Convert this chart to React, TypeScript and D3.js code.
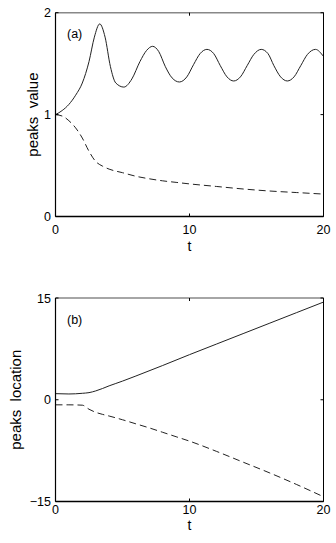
import React from "react";
import * as d3 from "d3";

// Panel (a): peaks value
const tA_solid = [0, 0.5, 1.0, 1.5, 2.0, 2.5, 2.9, 3.3, 3.7, 4.1, 4.5, 5.1, 5.7, 6.3, 6.8, 7.25, 7.7, 8.2, 8.7, 9.25, 9.8, 10.3, 10.8, 11.3, 11.8, 12.3, 12.8, 13.3, 13.8, 14.3, 14.8, 15.35, 15.85, 16.3, 16.8, 17.3, 17.8, 18.3, 18.8, 19.4, 20];
const vA_solid = [1.0, 1.04, 1.1, 1.19, 1.31, 1.52, 1.76, 1.89, 1.76, 1.47, 1.31, 1.27, 1.35, 1.52, 1.63, 1.67, 1.62, 1.47, 1.36, 1.32, 1.37, 1.49, 1.6, 1.64, 1.6, 1.48, 1.37, 1.33, 1.37, 1.48, 1.59, 1.64, 1.6, 1.48, 1.37, 1.33, 1.37, 1.48, 1.59, 1.64, 1.57];
const tA_dash = [0, 0.6, 1, 1.5, 2, 2.5, 3, 3.5, 4, 5, 6, 7, 8, 9, 10, 12, 14, 16, 18, 20];
const vA_dash = [1.0, 0.98, 0.94, 0.87, 0.77, 0.64, 0.54, 0.495, 0.465, 0.43, 0.395, 0.37, 0.35, 0.335, 0.32, 0.295, 0.27, 0.25, 0.235, 0.22];

// Panel (b): peaks location
const tB_solid = [0, 1, 2, 2.5, 3, 3.5, 4, 4.5, 5, 6, 8, 10, 12, 14, 16, 18, 20];
const vB_solid = [0.9, 0.85, 0.95, 1.05, 1.3, 1.65, 2.05, 2.4, 2.75, 3.5, 5.05, 6.65, 8.2, 9.75, 11.3, 12.85, 14.4];
const tB_dash = [0, 1, 2, 2.5, 3, 3.5, 4, 5, 6, 7, 8, 9, 10, 12, 14, 16, 18, 20];
const vB_dash = [-0.75, -0.75, -0.8, -1.4, -1.85, -2.15, -2.4, -2.95, -3.55, -4.15, -4.8, -5.45, -6.1, -7.6, -9.2, -10.8, -12.5, -14.3];

const xTicks = [0, 10, 20];
const yTicksA = [0, 1, 2];
const yTicksB = [-15, 0, 15];

const FONT = "'Liberation Sans', Arial, Helvetica, sans-serif";

type PanelProps = {
  yDomain: [number, number];
  yRange: [number, number];
  yTicks: number[];
  series: { t: number[]; v: number[]; dashed: boolean }[];
  ylabel: string;
  ylabelX: number;
  tag: string;
  tagY: number;
  xLabelBase: number;
  tLabelBase: number;
};

const x = d3.scaleLinear().domain([0, 20]).range([55.5, 323.5]);

function Panel(p: PanelProps) {
  const y = d3.scaleLinear().domain(p.yDomain).range(p.yRange);
  const [yb, yt] = p.yRange;
  const x0 = x.range()[0];
  const x1 = x.range()[1];
  const line = d3
    .line<[number, number]>()
    .x((d) => x(d[0]))
    .y((d) => y(d[1]))
    .curve(d3.curveMonotoneX);
  const tick = 3;
  const fmt = (v: number) => (v < 0 ? "\u2212" + Math.abs(v) : String(v));
  return (
    <g>
      {p.series.map((s, i) => (
        <path
          key={i}
          d={line(s.t.map((t, j) => [t, s.v[j]] as [number, number])) || ""}
          fill="none"
          stroke="#222"
          strokeWidth={1}
          strokeDasharray={s.dashed ? "7,4" : undefined}
        />
      ))}
      {/* box */}
      <line x1={x0} x2={x1} y1={yt} y2={yt} stroke="#888" strokeWidth={1.6} />
      <line x1={x1} x2={x1} y1={yt} y2={yb} stroke="#000" strokeWidth={1} />
      <line x1={x0} x2={x1} y1={yb} y2={yb} stroke="#000" strokeWidth={1.4} />
      <line x1={x0} x2={x0} y1={yt} y2={yb} stroke="#000" strokeWidth={1.2} />
      {xTicks.map((t) => (
        <g key={"x" + t}>
          <line x1={x(t)} x2={x(t)} y1={yb} y2={yb - tick} stroke="#000" />
          <line x1={x(t)} x2={x(t)} y1={yt} y2={yt + tick} stroke="#000" />
          <text x={x(t)} y={p.xLabelBase} textAnchor="middle" fontSize={12.5} fontFamily={FONT} fill="#000">
            {fmt(t)}
          </text>
        </g>
      ))}
      {p.yTicks.map((v) => (
        <g key={"y" + v}>
          <line x1={x0} x2={x0 + tick} y1={y(v)} y2={y(v)} stroke="#000" />
          <line x1={x1} x2={x1 - tick} y1={y(v)} y2={y(v)} stroke="#000" />
          <text x={51} y={y(v) + 4.5} textAnchor="end" fontSize={12.5} fontFamily={FONT} fill="#000">
            {fmt(v)}
          </text>
        </g>
      ))}
      <text x={x(10)} y={p.tLabelBase} textAnchor="middle" fontSize={14} fontFamily={FONT} fill="#000">
        t
      </text>
      <text
        transform={`translate(${p.ylabelX},${(yt + yb) / 2}) rotate(-90)`}
        textAnchor="middle"
        fontSize={15}
        fontFamily={FONT}
        fill="#000"
        style={{ whiteSpace: "pre" }}
      >
        {p.ylabel}
      </text>
      <text x={67} y={p.tagY} fontSize={12.5} fontFamily={FONT} fill="#000">
        {p.tag}
      </text>
    </g>
  );
}

export default function App() {
  return (
    <svg
      width={336}
      height={543}
      style={{ position: "absolute", left: 0, top: 0, background: "#fff" }}
    >
      <rect width={336} height={543} fill="#fff" />
      <Panel
        yDomain={[0, 2]}
        yRange={[216.5, 12.7]}
        yTicks={yTicksA}
        series={[
          { t: tA_solid, v: vA_solid, dashed: false },
          { t: tA_dash, v: vA_dash, dashed: true },
        ]}
        ylabel={"peaks  value"}
        ylabelX={38}
        tag="(a)"
        tagY={38}
        xLabelBase={234}
        tLabelBase={251}
      />
      <Panel
        yDomain={[-15, 15]}
        yRange={[501.5, 298]}
        yTicks={yTicksB}
        series={[
          { t: tB_solid, v: vB_solid, dashed: false },
          { t: tB_dash, v: vB_dash, dashed: true },
        ]}
        ylabel={"peaks  location"}
        ylabelX={21}
        tag="(b)"
        tagY={324}
        xLabelBase={514}
        tLabelBase={530}
      />
    </svg>
  );
}
